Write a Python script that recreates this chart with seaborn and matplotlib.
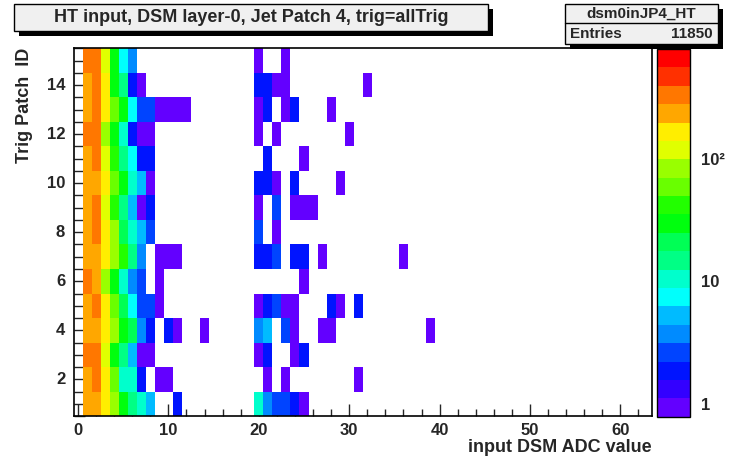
# HT input, DSM layer-0, Jet Patch 4 -- ROOT style 2D histogram with seaborn

import colorsys
import numpy as np
import pandas as pd
import matplotlib
matplotlib.use("Agg")
import matplotlib.pyplot as plt
from matplotlib.colors import ListedColormap, LogNorm
from matplotlib.patches import Rectangle
from matplotlib.ticker import FixedLocator, FixedFormatter, NullFormatter, LogLocator
import seaborn as sns

# DATA  (counts per ADC value, one dict per trigger patch)

p01 = {1: 225, 2: 225, 3: 160, 4: 85, 5: 30, 6: 15, 7: 10, 8: 5, 11: 2,
       20: 10, 21: 4, 22: 3, 23: 3, 24: 2, 25: 1}
p02 = {1: 225, 2: 310, 3: 160, 4: 60, 5: 10, 6: 10, 7: 2, 9: 1, 10: 1,
       21: 1, 23: 1, 31: 1}
p03 = {1: 310, 2: 310, 3: 120, 4: 30, 5: 15, 6: 5, 7: 1, 8: 1,
       20: 1, 21: 2, 24: 1, 25: 2}
p04 = {1: 225, 2: 225, 3: 160, 4: 85, 5: 30, 6: 21, 7: 4, 8: 2, 10: 2, 11: 1, 14: 1,
       20: 4, 21: 5, 23: 3, 24: 1, 27: 1, 28: 1, 39: 1}
p05 = {1: 225, 2: 310, 3: 160, 4: 60, 5: 21, 6: 7, 7: 3, 8: 3, 9: 1,
       20: 1, 21: 2, 22: 3, 23: 1, 24: 1, 28: 2, 29: 1, 31: 2}
p06 = {1: 310, 2: 225, 3: 85, 4: 30, 5: 10, 6: 4, 7: 3, 9: 1,
       25: 1}
p07 = {1: 225, 2: 225, 3: 160, 4: 85, 5: 42, 6: 15, 7: 4, 9: 1, 10: 1, 11: 1,
       20: 2, 21: 2, 22: 3, 24: 2, 25: 2, 27: 1, 36: 1}
p08 = {1: 225, 2: 310, 3: 160, 4: 85, 5: 21, 6: 10, 7: 5, 8: 3,
       20: 3, 22: 1}
p09 = {1: 225, 2: 310, 3: 120, 4: 42, 5: 15, 6: 5, 7: 1, 8: 2,
       20: 1, 22: 3, 24: 1, 25: 1, 26: 1}
p10 = {1: 225, 2: 225, 3: 160, 4: 60, 5: 30, 6: 10, 7: 5, 8: 1,
       20: 2, 21: 2, 22: 1, 24: 2, 29: 1}
p11 = {1: 225, 2: 310, 3: 120, 4: 42, 5: 15, 6: 7, 7: 2, 8: 2,
       21: 2, 25: 1}
p12 = {1: 310, 2: 310, 3: 85, 4: 30, 5: 10, 6: 2, 7: 1, 8: 1,
       20: 1, 22: 1, 30: 1}
p13 = {1: 225, 2: 310, 3: 160, 4: 60, 5: 30, 6: 7, 7: 3, 8: 3, 9: 1, 10: 1, 11: 1, 12: 1,
       20: 1, 21: 2, 23: 1, 24: 2, 28: 1}
p14 = {1: 225, 2: 310, 3: 160, 4: 30, 5: 15, 6: 2, 7: 1,
       20: 2, 21: 2, 22: 1, 23: 1, 32: 1}
p15 = {1: 310, 2: 310, 3: 120, 4: 30, 5: 7, 6: 4,
       20: 1, 23: 1}

patch_ids = list(range(1, 16))
patches = [p01, p02, p03, p04, p05, p06, p07, p08, p09, p10, p11, p12, p13, p14, p15]
adc_values = np.arange(64)

hist_name = "dsm0inJP4_HT"
entries = 11850
title = "HT input, DSM layer-0, Jet Patch 4, trig=allTrig"

# BUILD TABLE

counts = np.zeros((len(patch_ids), len(adc_values)))
for i, p in enumerate(patches):
    for adc, n in p.items():
        counts[i, adc] = n
df = pd.DataFrame(counts, index=patch_ids, columns=adc_values)

# ROOT "pretty" palette, 20 contour levels
pal = []
for j in range(20):
    idx = int((j + 0.99) * 50 / 20)
    hue = 280 - (idx + 1) * 5.6
    pal.append(colorsys.hls_to_rgb(hue / 360.0, 0.5, 1.0))
cmap = ListedColormap(pal)
norm = LogNorm(vmin=0.787, vmax=781)

# PLOT

sns.set_style("white")
plt.rcParams["font.family"] = ["Liberation Sans", "DejaVu Sans"]
plt.rcParams["font.weight"] = "bold"

W, H = 738, 465
fig = plt.figure(figsize=(W / 100, H / 100), dpi=100)


def fx(x):
    return x / W


def fy(y):
    return 1 - y / H


ax = fig.add_axes([fx(73.5), fy(416), fx(652) - fx(73.5), fy(48.5) - fy(416)])
cax = fig.add_axes([fx(657), fy(416.7), fx(689.5) - fx(657), fy(49) - fy(416.7)])

sns.heatmap(df, mask=(df == 0), cmap=cmap, norm=norm, ax=ax, cbar=True,
            cbar_ax=cax, linewidths=0)

ax.set_ylim(0, len(patch_ids))
ax.set_xlim(0, len(adc_values))
for s in ax.spines.values():
    s.set_visible(True)
    s.set_color("black")
    s.set_linewidth(1.2)

ax.xaxis.set_major_locator(FixedLocator(np.arange(0, 61, 10) + 0.5))
ax.xaxis.set_major_formatter(FixedFormatter([str(v) for v in range(0, 61, 10)]))
ax.xaxis.set_minor_locator(FixedLocator(np.arange(0, 64, 2) + 0.5))
ax.yaxis.set_major_locator(FixedLocator(np.arange(2, 15, 2) - 0.5))
ax.yaxis.set_major_formatter(FixedFormatter([str(v) for v in range(2, 15, 2)]))
ax.yaxis.set_minor_locator(FixedLocator(np.arange(0, 15.01, 0.5)))
ax.tick_params(axis="x", which="major", direction="in", length=9, width=1,
               labelsize=12, pad=5, bottom=True, top=False, labelrotation=0)
ax.tick_params(axis="x", which="minor", direction="in", length=5, width=1,
               bottom=True, top=False)
ax.tick_params(axis="y", which="major", direction="in", length=17, width=1,
               labelsize=12, pad=6, left=True, right=False, labelrotation=0)
ax.tick_params(axis="y", which="minor", direction="in", length=8, width=1,
               left=True, right=False)
for lab in ax.get_xticklabels() + ax.get_yticklabels():
    lab.set_fontweight("bold")
ax.set_xlabel("")
ax.set_ylabel("")

# colour bar
cb = ax.collections[0].colorbar
cb.outline.set_linewidth(1)
cb.outline.set_edgecolor("black")
cax.yaxis.set_ticks_position("right")
cax.yaxis.set_major_locator(FixedLocator([1, 10, 100]))
cax.yaxis.set_major_formatter(FixedFormatter(["1", "10", "10\u00b2"]))
cax.yaxis.set_minor_locator(LogLocator(base=10, subs=np.arange(2, 10)))
cax.yaxis.set_minor_formatter(NullFormatter())
cax.tick_params(which="major", direction="in", length=17, width=1, labelsize=12, pad=8)
cax.tick_params(which="minor", direction="in", length=8, width=1)
for lab in cax.get_yticklabels():
    lab.set_fontweight("bold")

# axis titles
fig.text(fx(652), fy(447), "input DSM ADC value", ha="right", va="center",
         fontsize=13, fontweight="bold")
fig.text(fx(25), fy(48), "Trig Patch  ID", ha="center", va="top", rotation=90,
         fontsize=13, fontweight="bold")


# title and stats boxes with shadow
def pave(x0, y0, x1, y1, sh=5):
    fig.patches.append(Rectangle((fx(x0 + sh), fy(y1 + sh)), fx(x1 - x0), fy(y0) - fy(y1),
                                 transform=fig.transFigure, facecolor="black",
                                 edgecolor="black", lw=0, zorder=5))
    fig.patches.append(Rectangle((fx(x0), fy(y1)), fx(x1 - x0), fy(y0) - fy(y1),
                                 transform=fig.transFigure, facecolor="#f0f0f0",
                                 edgecolor="black", lw=1, zorder=6))


pave(14, 4, 488, 31)
fig.text(fx(251), fy(17), title, ha="center", va="center", fontsize=13,
         fontweight="bold", zorder=7)

pave(565, 4, 718, 44, sh=5)
fig.lines.append(plt.Line2D([fx(565), fx(718)], [fy(23.5), fy(23.5)],
                            transform=fig.transFigure, color="black", lw=1, zorder=7))
fig.text(fx(641), fy(14), hist_name, ha="center", va="center", fontsize=11,
         fontweight="bold", zorder=7)
fig.text(fx(570), fy(33.5), "Entries", ha="left", va="center", fontsize=11,
         fontweight="bold", zorder=7)
fig.text(fx(713), fy(33.5), str(entries), ha="right", va="center", fontsize=11,
         fontweight="bold", zorder=7)

fig.savefig("out.png", dpi=100)
